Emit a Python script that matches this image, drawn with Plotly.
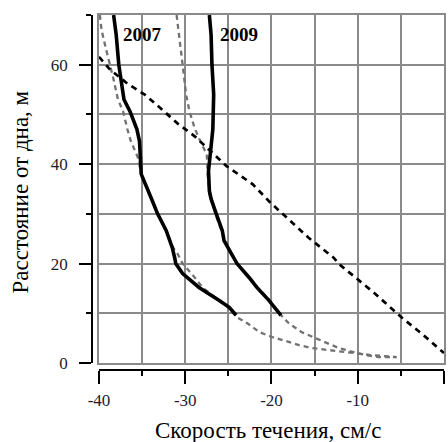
import plotly.graph_objects as go

# Measured current velocity profiles (cm/s) vs height above bottom (m)
obs2007_h = [70, 66, 60, 57, 53, 50.6, 47, 44.6, 40, 38, 33, 30, 26.6, 23.2, 21, 20, 18, 15.2, 12.6, 11.2, 9.6]
obs2007_v = [-38.3, -38.0, -37.7, -37.4, -37.1, -36.4, -35.6, -35.3, -35.2, -35.1, -33.9, -33.2, -32.2, -31.5,
             -31.2, -31.1, -30.3, -28.4, -26.1, -24.9, -24.1]

obs2009_h = [70, 66, 60, 54, 47, 42, 38.6, 34.6, 33, 30, 28.6, 26.6, 24.6, 22, 20, 17.2, 15.2, 12.6, 9.6]
obs2009_v = [-27.2, -27.0, -26.9, -26.7, -26.8, -27.1, -27.3, -27.2, -27.0, -26.4, -26.1, -25.7, -25.5, -24.7,
             -24.0, -22.6, -21.7, -20.3, -18.9]

# Model profiles (dashed gray)
mod2007_h = [70, 67, 64, 60, 57, 53, 50.6, 47, 44.6, 41.4, 38, 33, 30, 26.6, 23.2, 22, 20, 17.2, 15.2, 12.6,
             11, 9.2, 8, 6.2, 5.2, 4.4, 3.6, 3.0, 2.6, 2.4, 2.0, 1.6, 1.2]
mod2007_v = [-39.9, -39.7, -39.3, -38.7, -38.3, -37.8, -37.2, -36.7, -36.3, -35.5, -35.1, -33.9, -33.2, -32.2,
             -31.4, -30.9, -30.3, -28.9, -28.0, -26.1, -24.9, -24.0, -22.8, -21.4, -19.9, -18.3, -16.8, -15.3,
             -13.4, -11.9, -10.3, -8.5, -5.5]

mod2009_h = [70, 66, 60, 54, 50.6, 47.2, 44, 42, 38, 34, 30, 26.6, 22, 20, 17.2, 15.2, 12.6, 10, 8, 6.2, 5, 4,
             3, 2.2, 1.6, 1.2, 1.2]
mod2009_v = [-31.0, -30.7, -30.3, -29.9, -29.5, -28.9, -28.1, -27.5, -27.4, -27.2, -26.5, -25.8, -24.7, -24.0,
             -22.5, -21.6, -20.2, -19.1, -18.0, -16.5, -14.9, -13.6, -12.2, -10.5, -9.1, -7.6, -5.5]

# Black dashed reference line
ref_v = [-40, -38.7, -36.7, -34.7, -32.7, -30.9, -28.9, -25.2, -22.2, -20.1, -18.2, -15.7, -12.8, -12.1, -8.3,
         -4.8, -2.5, -1.0, 0]
ref_h = [61.6, 59, 56.2, 54, 51, 48.2, 45.6, 39.6, 36, 32.2, 29.2, 25.2, 21.2, 19.8, 14.4, 9, 5.8, 3.4, 2]

x_ticks = [-40, -30, -20, -10, 0]
x_ticktext = ["-40", "-30", "-20", "-10", "0"]
y_ticks = [0, 20, 40, 60]
y_ticktext = ["0", "20", "40", "60"]

year_labels = ["2007", "2009"]
year_pos_v = [-34.9, -23.8]
year_pos_h = [66, 66]

W, H = 448, 442
ML, MR, MT, MB = 92, 2, 15, 72
GAP = 7  # offset of the detached axes from the plot frame
dom_x = [GAP / (W - ML - MR), 1]
dom_y = [GAP / (H - MT - MB), 1]

FONT = "Liberation Serif"
GRID = "#8a8a8a"
TICK_COLOR = "#1c1c2c"

fig = go.Figure()

for v, h in [(mod2007_v, mod2007_h), (mod2009_v, mod2009_h)]:
    fig.add_trace(go.Scatter(x=v, y=h, mode="lines",
                             line=dict(color="#727272", width=2.3, dash="5px,4px"),
                             hoverinfo="skip", showlegend=False))

fig.add_trace(go.Scatter(x=ref_v, y=ref_h, mode="lines",
                         line=dict(color="black", width=2.7, dash="6px,5px"),
                         hoverinfo="skip", showlegend=False))

for v, h in [(obs2007_v, obs2007_h), (obs2009_v, obs2009_h)]:
    fig.add_trace(go.Scatter(x=v, y=h, mode="lines",
                             line=dict(color="black", width=3.6),
                             hoverinfo="skip", showlegend=False))

# empty trace to bind the detached axes
fig.add_trace(go.Scatter(x=[None], y=[None], xaxis="x2", yaxis="y2", mode="lines",
                         hoverinfo="skip", showlegend=False))

for txt, v, h in zip(year_labels, year_pos_v, year_pos_h):
    fig.add_annotation(x=v, y=h, text=f"<b>{txt}</b>", showarrow=False,
                       font=dict(family=FONT, size=19, color="black"))

fig.add_annotation(xref="paper", yref="paper", x=0.5, y=0, yshift=-60,
                   text="Скорость течения, см/с", showarrow=False,
                   xanchor="center", yanchor="middle",
                   font=dict(family=FONT, size=23, color="black"))
fig.add_annotation(xref="paper", yref="paper", x=0, xshift=-72, y=0.5,
                   text="Расстояние от дна, м", showarrow=False, textangle=-90,
                   xanchor="center", yanchor="middle",
                   font=dict(family=FONT, size=23, color="black"))

fig.update_layout(
    width=W, height=H,
    margin=dict(l=ML, r=MR, t=MT, b=MB),
    paper_bgcolor="white", plot_bgcolor="white",
    xaxis=dict(domain=dom_x, range=[-40, 0], dtick=5, tick0=0,
               showgrid=True, gridcolor=GRID, gridwidth=1.5,
               showline=True, mirror=True, linecolor=GRID, linewidth=1.5,
               showticklabels=False, ticks="", zeroline=False),
    yaxis=dict(domain=dom_y, range=[0, 70], dtick=10, tick0=0,
               showgrid=True, gridcolor=GRID, gridwidth=1.5,
               showline=True, mirror=True, linecolor=GRID, linewidth=1.5,
               showticklabels=False, ticks="", zeroline=False),
    xaxis2=dict(overlaying="x", anchor="free", position=0, domain=dom_x,
                range=[-40, 0], tickvals=x_ticks, ticktext=x_ticktext,
                showgrid=False, zeroline=False,
                showline=True, linecolor="black", linewidth=1.5,
                ticks="outside", ticklen=13, tickwidth=1.5, tickcolor="black",
                minor=dict(dtick=5, tick0=0, ticks="outside", ticklen=5, tickwidth=1.5,
                           tickcolor="black", showgrid=False),
                ticklabelstandoff=2,
                tickfont=dict(family=FONT, size=17, color=TICK_COLOR)),
    yaxis2=dict(overlaying="y", anchor="free", position=0, domain=dom_y,
                range=[0, 70], tickvals=y_ticks, ticktext=y_ticktext,
                showgrid=False, zeroline=False,
                showline=True, linecolor="black", linewidth=1.5,
                ticks="outside", ticklen=12, tickwidth=1.5, tickcolor="black",
                minor=dict(dtick=10, tick0=0, ticks="outside", ticklen=5, tickwidth=1.5,
                           tickcolor="black", showgrid=False),
                ticklabelstandoff=8,
                tickfont=dict(family=FONT, size=17, color=TICK_COLOR)),
)

fig.write_html("out.html")
